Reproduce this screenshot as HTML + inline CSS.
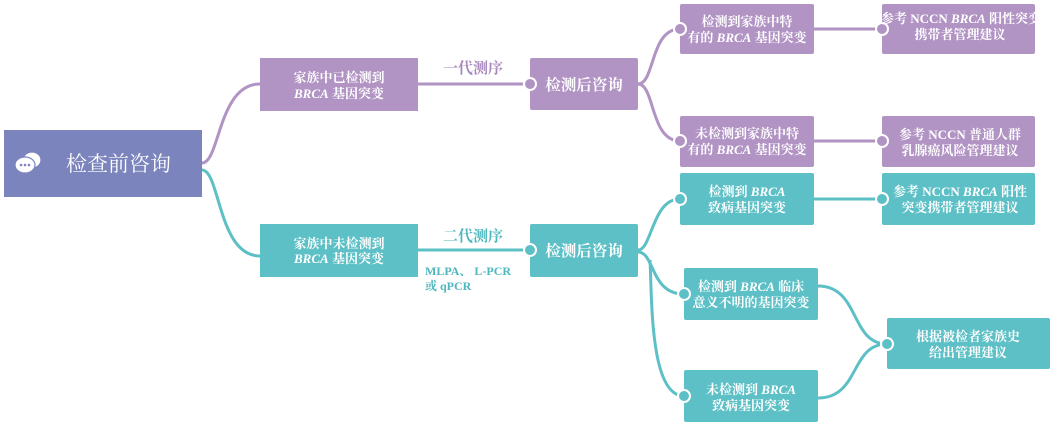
<!DOCTYPE html>
<html><head><meta charset="utf-8"><style>
html,body{margin:0;padding:0;background:#fff;width:1054px;height:427px;overflow:hidden}
svg text{font-family:"Liberation Serif","Noto Serif CJK SC","Noto Sans CJK SC",serif;fill:#fff}
</style></head><body>
<svg width="1054" height="427" viewBox="0 0 1054 427" xmlns="http://www.w3.org/2000/svg">
<g fill="none" stroke-width="3">
 <g stroke="#b193c4">
  <path d="M202 163 C220 163 218 84 260 84"/>
  <path d="M418 84 L530 84"/>
  <path d="M638 84 C655 84 650 29 680 29"/>
  <path d="M638 84 C655 84 650 141 680 141"/>
  <path d="M814 29 L882 29"/>
  <path d="M814 141 L882 141"/>
 </g>
 <g stroke="#5dc0c6">
  <path d="M202 170 C220 170 218 256 260 256"/>
  <path d="M418 250 L530 250"/>
  <path d="M638 250 C652 250 652 199 680 199"/>
  <path d="M638 252 C655 252 650 294 684 294"/>
  <path d="M650 260 C652 300 650 396 684 396"/>
  <path d="M814 199 L882 199"/>
  <path d="M818 286 C860 286 850 344 887 344"/>
  <path d="M818 398 C860 398 850 344 887 344"/>
 </g>
</g>
<rect x="4" y="130" width="198" height="67" fill="#7b84bd"/>
<g fill="#fff" stroke="#7b84bd" stroke-width="1.2"><ellipse cx="32" cy="160" rx="9" ry="8"/><ellipse cx="25" cy="165" rx="10" ry="8"/></g>
<g fill="#7b84bd"><circle cx="21" cy="165" r="1.3"/><circle cx="25" cy="165" r="1.3"/><circle cx="29" cy="165" r="1.3"/></g>
<text x="66" y="171" font-size="21">检查前咨询</text>
<g fill="#b193c4">
 <rect x="260" y="58" width="158" height="53"/>
 <rect x="530" y="58" width="108" height="52" rx="2"/>
 <rect x="680" y="4" width="134" height="50" rx="2"/>
 <rect x="680" y="116" width="134" height="51" rx="2"/>
 <rect x="882" y="4" width="153" height="50" rx="2"/>
 <rect x="882" y="116" width="153" height="51" rx="2"/>
 <circle cx="530" cy="84" r="6" stroke="#fff" stroke-width="2"/>
 <circle cx="680" cy="29" r="6" stroke="#fff" stroke-width="2"/>
 <circle cx="680" cy="141" r="6" stroke="#fff" stroke-width="2"/>
 <circle cx="882" cy="29" r="6" stroke="#fff" stroke-width="2"/>
 <circle cx="882" cy="141" r="6" stroke="#fff" stroke-width="2"/>
</g>
<g fill="#5dc0c6">
 <rect x="260" y="224" width="158" height="53"/>
 <rect x="530" y="224" width="108" height="53" rx="2"/>
 <rect x="680" y="173" width="134" height="52" rx="2"/>
 <rect x="684" y="268" width="134" height="52" rx="2"/>
 <rect x="684" y="370" width="134" height="52" rx="2"/>
 <rect x="882" y="173" width="153" height="52" rx="2"/>
 <rect x="887" y="318" width="163" height="51" rx="2"/>
 <circle cx="530" cy="250" r="6" stroke="#fff" stroke-width="2"/>
 <circle cx="680" cy="199" r="6" stroke="#fff" stroke-width="2"/>
 <circle cx="684" cy="294" r="6" stroke="#fff" stroke-width="2"/>
 <circle cx="684" cy="396" r="6" stroke="#fff" stroke-width="2"/>
 <circle cx="882" cy="199" r="6" stroke="#fff" stroke-width="2"/>
 <circle cx="887" cy="344" r="6" stroke="#fff" stroke-width="2"/>
</g>
<g font-size="13" font-weight="bold" text-anchor="middle">
 <text x="339" y="82">家族中已检测到</text>
 <text x="339" y="98"><tspan font-style="italic">BRCA</tspan> 基因突变</text>
 <text x="339" y="248">家族中未检测到</text>
 <text x="339" y="263"><tspan font-style="italic">BRCA</tspan> 基因突变</text>
 <text x="747" y="26">检测到家族中特</text>
 <text x="747" y="42">有的 <tspan font-style="italic">BRCA</tspan> 基因突变</text>
 <text x="747" y="138">未检测到家族中特</text>
 <text x="747" y="154">有的 <tspan font-style="italic">BRCA</tspan> 基因突变</text>
 <text x="961" y="23">参考 NCCN <tspan font-style="italic">BRCA</tspan> 阳性突变</text>
 <text x="960" y="39">携带者管理建议</text>
 <text x="960" y="139">参考 NCCN 普通人群</text>
 <text x="960" y="155">乳腺癌风险管理建议</text>
 <text x="747" y="196">检测到 <tspan font-style="italic">BRCA</tspan></text>
 <text x="747" y="212">致病基因突变</text>
 <text x="960" y="196">参考 NCCN <tspan font-style="italic">BRCA</tspan> 阳性</text>
 <text x="960" y="212">突变携带者管理建议</text>
 <text x="751" y="291">检测到 <tspan font-style="italic">BRCA</tspan> 临床</text>
 <text x="751" y="307">意义不明的基因突变</text>
 <text x="751" y="394">未检测到 <tspan font-style="italic">BRCA</tspan></text>
 <text x="751" y="410">致病基因突变</text>
 <text x="968" y="341">根据被检者家族史</text>
 <text x="968" y="357">给出管理建议</text>
</g>
<g font-size="15.5" text-anchor="middle" font-weight="bold">
 <text x="584" y="90">检测后咨询</text>
 <text x="584" y="256">检测后咨询</text>
</g>
<text x="443" y="73" font-size="15" font-weight="bold" style="fill:#a887bd">一代测序</text>
<text x="443" y="241" font-size="15" font-weight="bold" style="fill:#4db7be">二代测序</text>
<text x="425" y="275" font-size="12" font-weight="bold" style="fill:#4db7be">MLPA、 L-PCR</text>
<text x="425" y="290" font-size="12" font-weight="bold" style="fill:#4db7be">或 qPCR</text>
</svg>
</body></html>
